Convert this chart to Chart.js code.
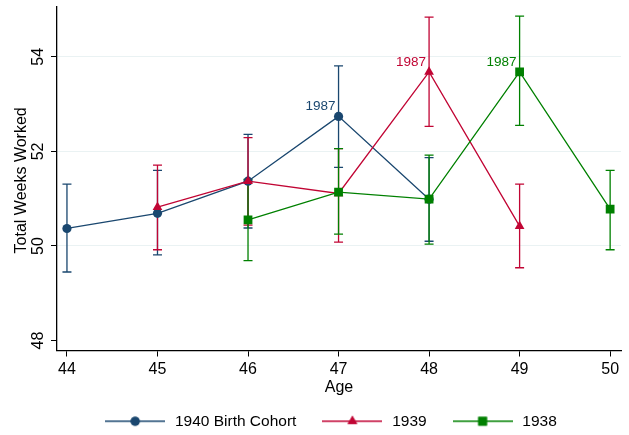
<!DOCTYPE html>
<html>
<head>
    <title>Total Weeks Worked by Age</title>
    <script src="https://cdn.jsdelivr.net/npm/chart.js"></script>
    <style>
        body { margin: 0; background: #fff; }
        #wrap { width: 629px; height: 435px; }
    </style>
</head>
<body>
    <div id="wrap"><canvas id="myChart"></canvas></div>

    <script>
        // values
        const seriesNames = ['1940 Birth Cohort', '1939', '1938'];
        const yTicks = [48, 50, 52, 54];
        const xTicks = [44, 45, 46, 47, 48, 49, 50];
        const peakLabel = '1987';

        const age1940 = [44, 45, 46, 47, 48];
        const mean1940 = [50.37, 50.69, 51.37, 52.74, 50.99];
        const lo1940 = [49.45, 49.81, 50.38, 51.66, 50.10];
        const hi1940 = [51.31, 51.60, 52.36, 53.81, 51.87];

        const age1939 = [45, 46, 47, 48, 49];
        const mean1939 = [50.82, 51.37, 51.11, 53.68, 50.42];
        const lo1939 = [49.92, 50.44, 50.08, 52.53, 49.54];
        const hi1939 = [51.71, 52.29, 52.06, 54.84, 51.31];

        const age1938 = [46, 47, 48, 49, 50];
        const mean1938 = [50.55, 51.14, 50.99, 53.68, 50.78];
        const lo1938 = [49.69, 50.25, 50.04, 52.55, 49.92];
        const hi1938 = [51.41, 52.06, 51.92, 54.86, 51.60];

        const peakIndex = [3, 3, 3];

        const colors = ['#1a476f', '#c10534', '#008000'];
        const shapes = ['circle', 'triangle', 'rect'];
        const radii = [4.6, 5.6, 6.2];
        const FONT = '"Liberation Sans", Arial, sans-serif';

        const ages = [age1940, age1939, age1938];
        const means = [mean1940, mean1939, mean1938];
        const los = [lo1940, lo1939, lo1938];
        const his = [hi1940, hi1939, hi1938];

        // legend key: line with marker in the middle
        function legendKey(i) {
            const c = document.createElement('canvas');
            c.width = 60; c.height = 14;
            const g = c.getContext('2d');
            g.strokeStyle = colors[i];
            g.fillStyle = colors[i];
            g.lineWidth = 1.3;
            g.beginPath(); g.moveTo(0, 7); g.lineTo(60, 7); g.stroke();
            Chart.helpers.drawPoint(g, { pointStyle: shapes[i], radius: radii[i], borderWidth: 0 }, 30, 7);
            g.fill();
            return c;
        }

        // error bars + "1987" labels + vertical y tick labels
        const errorBars = {
            id: 'errorBars',
            beforeDatasetsDraw(chart) {
                const ctx = chart.ctx, x = chart.scales.x, y = chart.scales.y;
                ctx.save();
                ctx.lineWidth = 1.3;
                for (let s = 0; s < 3; s++) {
                    ctx.strokeStyle = colors[s];
                    ages[s].forEach((a, j) => {
                        const px = x.getPixelForValue(a);
                        const y1 = y.getPixelForValue(los[s][j]);
                        const y2 = y.getPixelForValue(his[s][j]);
                        ctx.beginPath();
                        ctx.moveTo(px, y1); ctx.lineTo(px, y2);
                        ctx.moveTo(px - 4.5, y1); ctx.lineTo(px + 4.5, y1);
                        ctx.moveTo(px - 4.5, y2); ctx.lineTo(px + 4.5, y2);
                        ctx.stroke();
                    });
                }
                ctx.restore();
            },
            afterDatasetsDraw(chart) {
                const ctx = chart.ctx, x = chart.scales.x, y = chart.scales.y;
                ctx.save();
                ctx.font = '13.5px ' + FONT;
                ctx.textAlign = 'right';
                ctx.textBaseline = 'middle';
                for (let s = 0; s < 3; s++) {
                    const j = peakIndex[s];
                    ctx.fillStyle = colors[s];
                    ctx.fillText(peakLabel, x.getPixelForValue(ages[s][j]) - 3, y.getPixelForValue(means[s][j]) - 10);
                }
                ctx.fillStyle = '#000';
                ctx.textAlign = 'center';
                ctx.font = '16px ' + FONT;
                const left = chart.chartArea.left;
                y.ticks.forEach(t => {
                    ctx.save();
                    ctx.translate(left - 18, y.getPixelForValue(t.value));
                    ctx.rotate(-Math.PI / 2);
                    ctx.fillText(String(t.value), 0, 0);
                    ctx.restore();
                });
                ctx.save();
                ctx.translate(left - 35, (chart.chartArea.top + chart.chartArea.bottom) / 2 + 2);
                ctx.rotate(-Math.PI / 2);
                ctx.fillText('Total Weeks Worked', 0, 0);
                ctx.restore();
                ctx.restore();
            }
        };

        const datasets = seriesNames.map((name, i) => ({
            label: name,
            data: ages[i].map((a, j) => ({ x: a, y: means[i][j] })),
            borderColor: colors[i],
            backgroundColor: colors[i],
            borderWidth: 1.3,
            pointStyle: shapes[i],
            pointRadius: radii[i],
            pointBorderWidth: 0,
            pointHoverRadius: radii[i],
            tension: 0
        }));

        const ctx = document.getElementById('myChart').getContext('2d');
        const myChart = new Chart(ctx, {
            type: 'line',
            data: { datasets: datasets.slice().reverse() },
            plugins: [errorBars],
            options: {
                responsive: true,
                maintainAspectRatio: false,
                animation: false,
                layout: { padding: { top: 6, left: 39, right: 8, bottom: -4 } },
                plugins: {
                    tooltip: { enabled: false },
                    legend: {
                        position: 'bottom',
                        labels: {
                            font: { family: FONT, size: 15.5 },
                            color: '#000',
                            usePointStyle: true,
                            pointStyleWidth: 64,
                            boxHeight: 14,
                            padding: 24,
                            generateLabels: () => seriesNames.map((name, i) => ({
                                text: name,
                                pointStyle: legendKey(i),
                                fillStyle: colors[i],
                                strokeStyle: colors[i],
                                lineWidth: 0,
                                hidden: false,
                                datasetIndex: 2 - i
                            }))
                        }
                    }
                },
                scales: {
                    x: {
                        type: 'linear',
                        min: 43.89,
                        max: 50.12,
                        afterBuildTicks: s => { s.ticks = xTicks.map(v => ({ value: v })); },
                        grid: { display: true, drawOnChartArea: false, tickLength: 6, tickColor: '#000', lineWidth: 1 },
                        border: { color: '#000', width: 1.3 },
                        ticks: { color: '#000', font: { family: FONT, size: 16 }, padding: 3, maxRotation: 0 },
                        title: { display: true, text: 'Age', color: '#000', font: { family: FONT, size: 16 }, padding: { top: 0, bottom: -8 } },
                        afterFit: s => { s.height = 39; }
                    },
                    y: {
                        type: 'linear',
                        min: 47.79,
                        max: 55.07,
                        afterBuildTicks: s => { s.ticks = yTicks.map(v => ({ value: v })); },
                        grid: {
                            color: c => (c.tick && c.tick.value === 48) ? 'rgba(0,0,0,0)' : '#eaf2f3',
                            tickColor: '#000',
                            tickLength: 6,
                            lineWidth: 1
                        },
                        border: { color: '#000', width: 1.3 },
                        ticks: { display: false },
                        afterFit: s => { s.width = 18; }
                    }
                }
            }
        });
    </script>
</body>
</html>
